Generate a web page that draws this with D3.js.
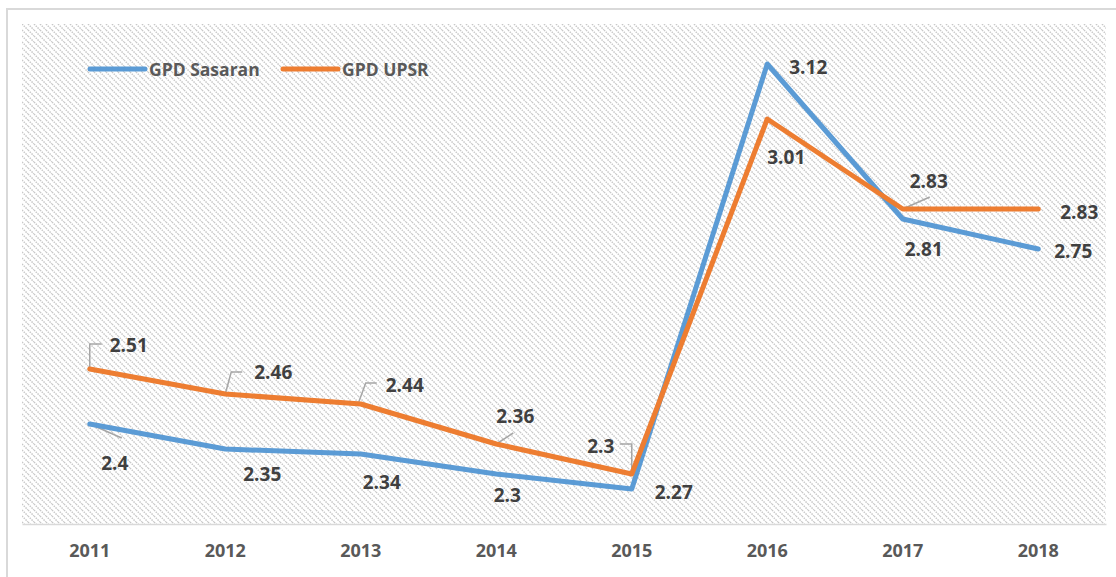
<!DOCTYPE html>
<html>
<head>
<meta charset="utf-8">
<script src="https://cdn.jsdelivr.net/npm/d3@7"></script>
<style>
  body { margin: 0; background: #fff; }
  svg text { font-family: "Open Sans", "Noto Sans", sans-serif; font-weight: bold; }
</style>
</head>
<body>
<svg id="chart"></svg>
<script>
const years = ['2011', '2012', '2013', '2014', '2015', '2016', '2017', '2018'];
const sasaran = [2.4, 2.35, 2.34, 2.3, 2.27, 3.12, 2.81, 2.75];
const upsr = [2.51, 2.46, 2.44, 2.36, 2.3, 3.01, 2.83, 2.83];
const seriesNames = ['GPD Sasaran', 'GPD UPSR'];

// label placement (offset of text centre from the point) and leader lines
const sasaranLabelPos = [[25, 39], [37, 25], [21, 28], [11, 21], [42, 3], [41, 3], [21, 30], [35, 2]];
const upsrLabelPos = [[39, -24], [48, -22], [44, -19], [19, -28], [-31, -28], [19, 38], [26, -28], [41, 3]];
const sasaranLeaders = [[[0, 0], [32, 14]], null, null, null, null, null, null, null];
const upsrLeaders = [
  [[0, 0], [0, -25], [12, -25]],
  [[0, 0], [6, -22], [17, -22]],
  [[-2, -2], [5, -21], [16, -21]],
  [[0, 0], [17, -11]],
  [[0, -1], [0, -30], [-12, -30]],
  [[0, 0], [26, 17]],
  [[0, 0], [27, -12]],
  null
];

const W = 1116, H = 577;
const margin = {top: 24, right: 10, bottom: 53, left: 22};

const svg = d3.select('#chart').attr('width', W).attr('height', H);

const defs = svg.append('defs');
const pat = defs.append('pattern')
  .attr('id', 'hatch')
  .attr('patternUnits', 'userSpaceOnUse')
  .attr('width', 6).attr('height', 6);
pat.append('path')
  .attr('d', 'M0,0 L6,6 M-1,5 L1,7 M5,-1 L7,1')
  .attr('stroke', '#c8c8c8')
  .attr('stroke-width', 1.5)
  .attr('stroke-dasharray', '1.5,1');

// chart frame
svg.append('rect')
  .attr('x', 7).attr('y', 9)
  .attr('width', W).attr('height', H)
  .attr('fill', 'none')
  .attr('stroke', '#d9d9d9')
  .attr('stroke-width', 2);

const width = W - margin.left - margin.right;
const height = H - margin.top - margin.bottom;

const x = d3.scaleBand().domain(years).range([0, width]);
const y = d3.scaleLinear().domain([2.2, 3.2]).range([height, 0]);

const g = svg.append('g').attr('transform', 'translate(' + margin.left + ',' + margin.top + ')');

g.append('rect')
  .attr('width', width).attr('height', height)
  .attr('fill', 'url(#hatch)');

// x axis
const xAxis = g.append('g')
  .attr('transform', 'translate(0,' + height + ')')
  .call(d3.axisBottom(x).tickSize(0).tickPadding(20));
xAxis.select('.domain').attr('stroke', '#d9d9d9').attr('stroke-width', 1.5);
xAxis.selectAll('text')
  .attr('fill', '#595959')
  .style('font-size', '18px')
  .style('font-weight', 'bold')
  .style('font-family', '"Open Sans", sans-serif');

const cx = d => x(d) + x.bandwidth() / 2;

const series = [
  {name: seriesNames[0], values: sasaran, color: '#5B9BD5', labelPos: sasaranLabelPos, leaders: sasaranLeaders},
  {name: seriesNames[1], values: upsr, color: '#ED7D31', labelPos: upsrLabelPos, leaders: upsrLeaders}
];

const line = d3.line()
  .x((d, i) => cx(years[i]))
  .y(d => y(d));

// leader lines
series.forEach(s => {
  s.leaders.forEach((pts, i) => {
    if (!pts) return;
    const px = cx(years[i]), py = y(s.values[i]);
    g.append('path')
      .attr('d', d3.line()(pts.map(p => [px + p[0], py + p[1]])))
      .attr('fill', 'none')
      .attr('stroke', '#a6a6a6')
      .attr('stroke-width', 1.5);
  });
});

series.forEach(s => {
  g.append('path')
    .datum(s.values)
    .attr('d', line)
    .attr('fill', 'none')
    .attr('stroke', s.color)
    .attr('stroke-width', 5)
    .attr('stroke-linejoin', 'round')
    .attr('stroke-linecap', 'round');
});

// data labels
series.forEach(s => {
  g.selectAll(null)
    .data(s.values)
    .enter().append('text')
    .attr('x', (d, i) => cx(years[i]) + s.labelPos[i][0])
    .attr('y', (d, i) => y(d) + s.labelPos[i][1])
    .attr('text-anchor', 'middle')
    .attr('dominant-baseline', 'central')
    .attr('fill', '#404040')
    .style('font-size', '19px')
    .text(d => d);
});

// legend
const legend = svg.append('g').attr('transform', 'translate(90,69)');
const legendX = [0, 193];
series.forEach((s, i) => {
  const lg = legend.append('g').attr('transform', 'translate(' + legendX[i] + ',0)');
  lg.append('line')
    .attr('x1', 0).attr('x2', 55)
    .attr('stroke', s.color)
    .attr('stroke-width', 5)
    .attr('stroke-linecap', 'round');
  lg.append('text')
    .attr('x', 59)
    .attr('dominant-baseline', 'central')
    .attr('fill', '#595959')
    .style('font-size', '17.5px')
    .text(s.name);
});
</script>
</body>
</html>
